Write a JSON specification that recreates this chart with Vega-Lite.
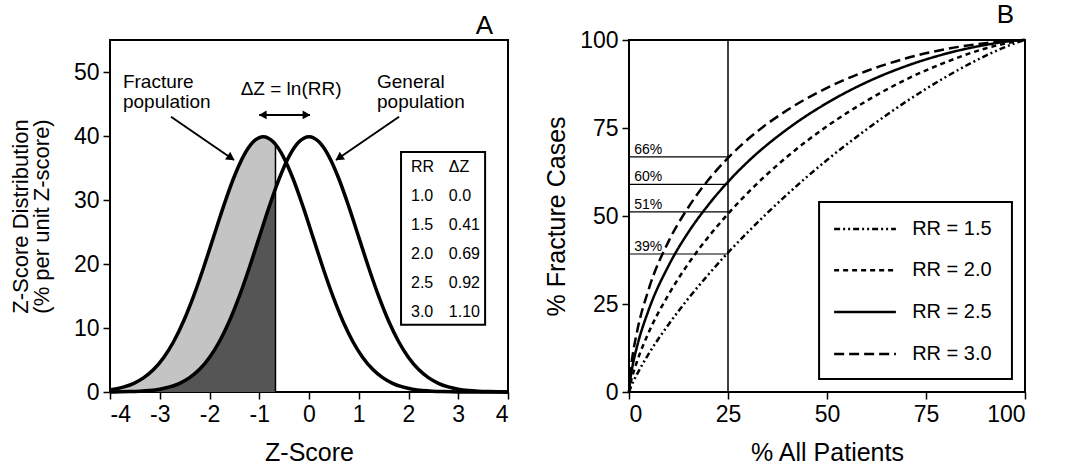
{
  "$schema": "https://vega.github.io/schema/vega-lite/v6.json",
  "padding": {"left": 8, "top": 1, "right": 5, "bottom": 0},
  "spacing": 27,
  "config": {
    "font": "Liberation Sans",
    "view": {"stroke": "black", "strokeWidth": 2},
    "axis": {"domain": false, "grid": false, "tickColor": "black", "tickSize": 7, "tickWidth": 1.5, "labelFontSize": 23, "labelColor": "black", "labelPadding": 4, "titleColor": "black", "titleFontWeight": "normal", "titleFontSize": 25},
    "title": {"fontSize": 26, "fontWeight": "normal", "anchor": "end", "color": "black"}
  },
  "datasets": {
    "general": [
      {"z": -4.0, "pct": 0.013}, {"z": -3.8, "pct": 0.029}, {"z": -3.6, "pct": 0.061}, {"z": -3.4, "pct": 0.123},
      {"z": -3.2, "pct": 0.238}, {"z": -3.0, "pct": 0.443}, {"z": -2.8, "pct": 0.792}, {"z": -2.6, "pct": 1.358},
      {"z": -2.4, "pct": 2.239}, {"z": -2.2, "pct": 3.547}, {"z": -2.0, "pct": 5.399}, {"z": -1.8, "pct": 7.895},
      {"z": -1.6, "pct": 11.092}, {"z": -1.4, "pct": 14.973}, {"z": -1.2, "pct": 19.419}, {"z": -1.0, "pct": 24.197},
      {"z": -0.8, "pct": 28.969}, {"z": -0.674, "pct": 31.79}, {"z": -0.6, "pct": 33.322}, {"z": -0.4, "pct": 36.827},
      {"z": -0.2, "pct": 39.104}, {"z": 0.0, "pct": 39.894}, {"z": 0.2, "pct": 39.104}, {"z": 0.4, "pct": 36.827},
      {"z": 0.6, "pct": 33.322}, {"z": 0.8, "pct": 28.969}, {"z": 1.0, "pct": 24.197}, {"z": 1.2, "pct": 19.419},
      {"z": 1.4, "pct": 14.973}, {"z": 1.6, "pct": 11.092}, {"z": 1.8, "pct": 7.895}, {"z": 2.0, "pct": 5.399},
      {"z": 2.2, "pct": 3.547}, {"z": 2.4, "pct": 2.239}, {"z": 2.6, "pct": 1.358}, {"z": 2.8, "pct": 0.792},
      {"z": 3.0, "pct": 0.443}, {"z": 3.2, "pct": 0.238}, {"z": 3.4, "pct": 0.123}, {"z": 3.6, "pct": 0.061},
      {"z": 3.8, "pct": 0.029}, {"z": 4.0, "pct": 0.013}
    ],
    "fracture": [
      {"z": -4.0, "pct": 0.347}, {"z": -3.92, "pct": 0.443}, {"z": -3.72, "pct": 0.792}, {"z": -3.52, "pct": 1.358},
      {"z": -3.32, "pct": 2.239}, {"z": -3.12, "pct": 3.547}, {"z": -2.92, "pct": 5.399}, {"z": -2.72, "pct": 7.895},
      {"z": -2.52, "pct": 11.092}, {"z": -2.32, "pct": 14.973}, {"z": -2.12, "pct": 19.419}, {"z": -1.92, "pct": 24.197},
      {"z": -1.72, "pct": 28.969}, {"z": -1.52, "pct": 33.322}, {"z": -1.32, "pct": 36.827}, {"z": -1.12, "pct": 39.104},
      {"z": -0.92, "pct": 39.894}, {"z": -0.72, "pct": 39.104}, {"z": -0.674, "pct": 38.71}, {"z": -0.52, "pct": 36.827},
      {"z": -0.32, "pct": 33.322}, {"z": -0.12, "pct": 28.969}, {"z": 0.08, "pct": 24.197}, {"z": 0.28, "pct": 19.419},
      {"z": 0.48, "pct": 14.973}, {"z": 0.68, "pct": 11.092}, {"z": 0.88, "pct": 7.895}, {"z": 1.08, "pct": 5.399},
      {"z": 1.28, "pct": 3.547}, {"z": 1.48, "pct": 2.239}, {"z": 1.68, "pct": 1.358}, {"z": 1.88, "pct": 0.792},
      {"z": 2.08, "pct": 0.443}, {"z": 2.28, "pct": 0.238}, {"z": 2.48, "pct": 0.123}, {"z": 2.68, "pct": 0.061},
      {"z": 2.88, "pct": 0.029}, {"z": 3.08, "pct": 0.013}, {"z": 3.48, "pct": 0.002}, {"z": 4.0, "pct": 0.0}
    ],
    "annotLeft": [
      {"x": -3.74, "y": 47.5, "t": "Fracture"},
      {"x": -3.74, "y": 44.4, "t": "population"},
      {"x": 1.367, "y": 47.5, "t": "General"},
      {"x": 1.367, "y": 44.4, "t": "population"}
    ],
    "arrows": [
      {"x": -2.774, "y": 43.0, "x2": -1.508, "y2": 36.25},
      {"x": 1.81, "y": 43.0, "x2": 0.543, "y2": 36.25},
      {"x": -1.0, "y": 43.3, "x2": 0.02, "y2": 43.3}
    ],
    "table": [
      {"rr": "RR", "dz": "ΔZ", "ty": 34.4},
      {"rr": "1.0", "dz": "0.0", "ty": 29.8},
      {"rr": "1.5", "dz": "0.41", "ty": 25.3},
      {"rr": "2.0", "dz": "0.69", "ty": 20.8},
      {"rr": "2.5", "dz": "0.92", "ty": 16.25},
      {"rr": "3.0", "dz": "1.10", "ty": 11.7}
    ],
    "curves": [
      {"RR": "1.5", "p": 0, "f": 0}, {"RR": "1.5", "p": 0.5, "f": 1.5}, {"RR": "1.5", "p": 1, "f": 2.8}, {"RR": "1.5", "p": 2, "f": 5.0},
      {"RR": "1.5", "p": 5, "f": 10.9}, {"RR": "1.5", "p": 10, "f": 19.2}, {"RR": "1.5", "p": 15, "f": 26.6}, {"RR": "1.5", "p": 20, "f": 33.3},
      {"RR": "1.5", "p": 25, "f": 39.6}, {"RR": "1.5", "p": 30, "f": 45.4}, {"RR": "1.5", "p": 40, "f": 56.2}, {"RR": "1.5", "p": 50, "f": 65.9},
      {"RR": "1.5", "p": 60, "f": 74.6}, {"RR": "1.5", "p": 70, "f": 82.5}, {"RR": "1.5", "p": 80, "f": 89.5}, {"RR": "1.5", "p": 90, "f": 95.5},
      {"RR": "1.5", "p": 95, "f": 98.0}, {"RR": "1.5", "p": 98, "f": 99.3}, {"RR": "1.5", "p": 100, "f": 100},
      {"RR": "2.0", "p": 0, "f": 0}, {"RR": "2.0", "p": 0.5, "f": 3.0}, {"RR": "2.0", "p": 1, "f": 5.1}, {"RR": "2.0", "p": 2, "f": 8.6},
      {"RR": "2.0", "p": 5, "f": 17.0}, {"RR": "2.0", "p": 10, "f": 27.7}, {"RR": "2.0", "p": 15, "f": 36.5}, {"RR": "2.0", "p": 20, "f": 44.0},
      {"RR": "2.0", "p": 25, "f": 50.6}, {"RR": "2.0", "p": 30, "f": 56.6}, {"RR": "2.0", "p": 40, "f": 66.9}, {"RR": "2.0", "p": 50, "f": 75.5},
      {"RR": "2.0", "p": 60, "f": 82.7}, {"RR": "2.0", "p": 70, "f": 88.8}, {"RR": "2.0", "p": 80, "f": 93.7}, {"RR": "2.0", "p": 90, "f": 97.6},
      {"RR": "2.0", "p": 95, "f": 99.0}, {"RR": "2.0", "p": 98, "f": 99.7}, {"RR": "2.0", "p": 100, "f": 100},
      {"RR": "2.5", "p": 0, "f": 0}, {"RR": "2.5", "p": 0.5, "f": 4.9}, {"RR": "2.5", "p": 1, "f": 8.0}, {"RR": "2.5", "p": 2, "f": 12.8},
      {"RR": "2.5", "p": 5, "f": 23.4}, {"RR": "2.5", "p": 10, "f": 35.9}, {"RR": "2.5", "p": 15, "f": 45.4}, {"RR": "2.5", "p": 20, "f": 53.1},
      {"RR": "2.5", "p": 25, "f": 59.7}, {"RR": "2.5", "p": 30, "f": 65.4}, {"RR": "2.5", "p": 40, "f": 74.7}, {"RR": "2.5", "p": 50, "f": 82.1},
      {"RR": "2.5", "p": 60, "f": 88.0}, {"RR": "2.5", "p": 70, "f": 92.6}, {"RR": "2.5", "p": 80, "f": 96.1}, {"RR": "2.5", "p": 90, "f": 98.6},
      {"RR": "2.5", "p": 95, "f": 99.5}, {"RR": "2.5", "p": 98, "f": 99.9}, {"RR": "2.5", "p": 100, "f": 100},
      {"RR": "3.0", "p": 0, "f": 0}, {"RR": "3.0", "p": 0.5, "f": 7.0}, {"RR": "3.0", "p": 1, "f": 11.0}, {"RR": "3.0", "p": 2, "f": 17.0},
      {"RR": "3.0", "p": 5, "f": 29.3}, {"RR": "3.0", "p": 10, "f": 42.8}, {"RR": "3.0", "p": 15, "f": 52.5}, {"RR": "3.0", "p": 20, "f": 60.2},
      {"RR": "3.0", "p": 25, "f": 66.5}, {"RR": "3.0", "p": 30, "f": 71.8}, {"RR": "3.0", "p": 40, "f": 80.1}, {"RR": "3.0", "p": 50, "f": 86.4},
      {"RR": "3.0", "p": 60, "f": 91.2}, {"RR": "3.0", "p": 70, "f": 94.8}, {"RR": "3.0", "p": 80, "f": 97.4}, {"RR": "3.0", "p": 90, "f": 99.1},
      {"RR": "3.0", "p": 95, "f": 99.7}, {"RR": "3.0", "p": 98, "f": 99.9}, {"RR": "3.0", "p": 100, "f": 100}
    ],
    "levels": [
      {"level": 66.8, "lab": "66%"},
      {"level": 59.0, "lab": "60%"},
      {"level": 51.2, "lab": "51%"},
      {"level": 39.2, "lab": "39%"}
    ],
    "legendRows": [
      {"RR": "1.5", "ly": 46.3, "lab": "RR = 1.5"},
      {"RR": "2.0", "ly": 34.6, "lab": "RR = 2.0"},
      {"RR": "2.5", "ly": 22.7, "lab": "RR = 2.5"},
      {"RR": "3.0", "ly": 10.8, "lab": "RR = 3.0"}
    ]
  },
  "hconcat": [
    {
      "width": 398,
      "height": 352,
      "title": {"text": "A", "dx": -22, "offset": 1},
      "layer": [
        {
          "data": {"name": "fracture"},
          "transform": [{"filter": "datum.z <= -0.674"}],
          "mark": {"type": "area", "interpolate": "monotone", "color": "#c4c4c4"},
          "encoding": {
            "x": {"field": "z", "type": "quantitative", "scale": {"domain": [-4, 4], "nice": false}, "title": "Z-Score",
                  "axis": {"values": [-4, -3, -2, -1, 0, 1, 2, 3, 4], "labelExpr": "'' + datum.value", "titlePadding": 14}},
            "y": {"field": "pct", "type": "quantitative", "scale": {"domain": [0, 55], "nice": false}, "title": ["Z-Score Distribution", "(% per unit Z-score)"],
                  "axis": {"values": [0, 10, 20, 30, 40, 50], "titleFontSize": 22, "titleLineHeight": 21, "titlePadding": 20}}
          }
        },
        {
          "data": {"name": "general"},
          "transform": [{"filter": "datum.z <= -0.674"}],
          "mark": {"type": "area", "interpolate": "monotone", "color": "#555555"},
          "encoding": {
            "x": {"field": "z", "type": "quantitative"},
            "y": {"field": "pct", "type": "quantitative"}
          }
        },
        {
          "data": {"values": [{}]},
          "mark": {"type": "rule", "strokeWidth": 1.5, "color": "black"},
          "encoding": {"x": {"datum": -0.674}, "y": {"datum": 0}, "y2": {"datum": 38.71}}
        },
        {
          "data": {"name": "general"},
          "mark": {"type": "line", "interpolate": "monotone", "color": "black", "strokeWidth": 3.5},
          "encoding": {
            "x": {"field": "z", "type": "quantitative"},
            "y": {"field": "pct", "type": "quantitative"}
          }
        },
        {
          "data": {"name": "fracture"},
          "mark": {"type": "line", "interpolate": "monotone", "color": "black", "strokeWidth": 3.5},
          "encoding": {
            "x": {"field": "z", "type": "quantitative"},
            "y": {"field": "pct", "type": "quantitative"}
          }
        },
        {
          "data": {"name": "annotLeft"},
          "mark": {"type": "text", "align": "left", "baseline": "alphabetic", "fontSize": 19, "color": "black"},
          "encoding": {"x": {"field": "x", "type": "quantitative"}, "y": {"field": "y", "type": "quantitative"}, "text": {"field": "t"}}
        },
        {
          "data": {"values": [{}]},
          "mark": {"type": "text", "align": "center", "baseline": "alphabetic", "fontSize": 19, "color": "black"},
          "encoding": {"x": {"datum": -0.36}, "y": {"datum": 46.4}, "text": {"value": "ΔZ = ln(RR)"}}
        },
        {
          "data": {"name": "arrows"},
          "mark": {"type": "rule", "strokeWidth": 2, "color": "black"},
          "encoding": {"x": {"field": "x", "type": "quantitative"}, "y": {"field": "y", "type": "quantitative"}, "x2": {"field": "x2"}, "y2": {"field": "y2"}}
        },
        {
          "data": {"values": [{}]},
          "mark": {"type": "point", "shape": "triangle", "angle": 124, "size": 90, "filled": true, "color": "black", "opacity": 1},
          "encoding": {"x": {"datum": -1.59}, "y": {"datum": 36.7}}
        },
        {
          "data": {"values": [{}]},
          "mark": {"type": "point", "shape": "triangle", "angle": 236, "size": 90, "filled": true, "color": "black", "opacity": 1},
          "encoding": {"x": {"datum": 0.625}, "y": {"datum": 36.7}}
        },
        {
          "data": {"values": [{}]},
          "mark": {"type": "point", "shape": "triangle-left", "size": 80, "filled": true, "color": "black", "opacity": 1},
          "encoding": {"x": {"datum": -0.93}, "y": {"datum": 43.3}}
        },
        {
          "data": {"values": [{}]},
          "mark": {"type": "point", "shape": "triangle-right", "size": 80, "filled": true, "color": "black", "opacity": 1},
          "encoding": {"x": {"datum": -0.05}, "y": {"datum": 43.3}}
        },
        {
          "data": {"values": [{}]},
          "mark": {"type": "rect", "fill": "white", "stroke": "black", "strokeWidth": 2},
          "encoding": {"x": {"datum": 1.85}, "x2": {"datum": 3.54}, "y": {"datum": 10.5}, "y2": {"datum": 37.5}}
        },
        {
          "data": {"name": "table"},
          "mark": {"type": "text", "align": "left", "baseline": "alphabetic", "fontSize": 16, "color": "black"},
          "encoding": {"x": {"datum": 2.05}, "y": {"field": "ty", "type": "quantitative"}, "text": {"field": "rr"}}
        },
        {
          "data": {"name": "table"},
          "mark": {"type": "text", "align": "left", "baseline": "alphabetic", "fontSize": 16, "color": "black"},
          "encoding": {"x": {"datum": 2.81}, "y": {"field": "ty", "type": "quantitative"}, "text": {"field": "dz"}}
        }
      ]
    },
    {
      "width": 396,
      "height": 352,
      "title": {"text": "B", "dx": -16, "offset": 1},
      "layer": [
        {
          "data": {"name": "curves"},
          "mark": {"type": "line", "interpolate": "monotone", "color": "black"},
          "encoding": {
            "x": {"field": "p", "type": "quantitative", "scale": {"domain": [0, 100], "nice": false}, "title": "% All Patients",
                  "axis": {"values": [0, 25, 50, 75, 100], "titlePadding": 14}},
            "y": {"field": "f", "type": "quantitative", "scale": {"domain": [0, 100], "nice": false}, "title": "% Fracture Cases",
                  "axis": {"values": [0, 25, 50, 75, 100], "titlePadding": 10}},
            "detail": {"field": "RR"},
            "strokeDash": {"field": "RR", "type": "nominal", "legend": null,
                           "scale": {"domain": ["1.5", "2.0", "2.5", "3.0"], "range": [[6, 3, 2, 3, 2, 3], [5, 4], [1, 0], [10, 5]]}},
            "strokeWidth": {"field": "RR", "type": "nominal", "legend": null,
                            "scale": {"domain": ["1.5", "2.0", "2.5", "3.0"], "range": [2.5, 2.5, 3.2, 2.5]}}
          }
        },
        {
          "data": {"values": [{}]},
          "mark": {"type": "rule", "strokeWidth": 1.5, "color": "black"},
          "encoding": {"x": {"datum": 25}, "y": {"datum": 0}, "y2": {"datum": 100}}
        },
        {
          "data": {"name": "levels"},
          "mark": {"type": "rule", "strokeWidth": 1.2, "color": "black"},
          "encoding": {"x": {"datum": 0}, "x2": {"datum": 25}, "y": {"field": "level", "type": "quantitative"}}
        },
        {
          "data": {"name": "levels"},
          "mark": {"type": "text", "align": "left", "baseline": "alphabetic", "dy": -3, "fontSize": 14, "color": "black"},
          "encoding": {"x": {"datum": 1.3}, "y": {"field": "level", "type": "quantitative"}, "text": {"field": "lab"}}
        },
        {
          "data": {"values": [{}]},
          "mark": {"type": "rect", "fill": "white", "stroke": "black", "strokeWidth": 2},
          "encoding": {"x": {"datum": 48}, "x2": {"datum": 96.7}, "y": {"datum": 3.7}, "y2": {"datum": 54}}
        },
        {
          "data": {"name": "legendRows"},
          "mark": {"type": "rule", "color": "black"},
          "encoding": {
            "x": {"datum": 51.8}, "x2": {"datum": 67.4}, "y": {"field": "ly", "type": "quantitative"},
            "strokeDash": {"field": "RR", "type": "nominal", "legend": null},
            "strokeWidth": {"field": "RR", "type": "nominal", "legend": null}
          }
        },
        {
          "data": {"name": "legendRows"},
          "mark": {"type": "text", "align": "left", "baseline": "middle", "fontSize": 20, "color": "black"},
          "encoding": {"x": {"datum": 71.5}, "y": {"field": "ly", "type": "quantitative"}, "text": {"field": "lab"}}
        }
      ]
    }
  ]
}
